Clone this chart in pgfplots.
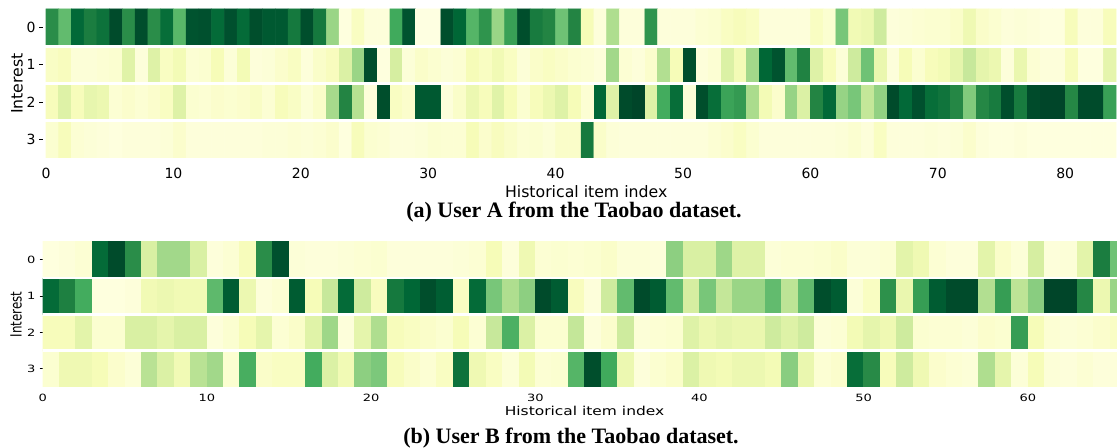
\documentclass[border=0pt]{standalone}
\usepackage{pgfplots}
\pgfplotsset{compat=1.18}
\usepackage{pgfplotstable}
\usepackage{graphicx}
\usepackage{fontspec}
\setmainfont{DejaVu Sans}
\newfontfamily\capfont{Liberation Serif}

\pgfplotsset{colormap={YlGn}{rgb255=(255,255,229) rgb255=(247,252,185) rgb255=(217,240,163) rgb255=(173,221,142) rgb255=(120,198,121) rgb255=(65,171,93) rgb255=(35,132,67) rgb255=(0,104,55) rgb255=(0,69,41)}}

% Panel (a): 4 interests x 84 items, row by row
\pgfplotstableread[row sep=\\]{
c\\
0.72\\0.55\\0.87\\0.78\\0.83\\0.98\\0.72\\0.97\\0.72\\0.85\\
0.57\\0.95\\0.96\\0.86\\0.96\\0.86\\0.97\\0.93\\0.93\\0.80\\
0.97\\0.80\\0.42\\0.02\\0.10\\0.03\\0.03\\0.63\\0.95\\0.01\\
0.01\\0.97\\0.88\\0.58\\0.70\\0.42\\0.66\\0.97\\0.79\\0.75\\
0.52\\0.75\\0.13\\0.03\\0.37\\0.03\\0.03\\0.70\\0.03\\0.03\\
0.03\\0.05\\0.06\\0.10\\0.12\\0.10\\0.03\\0.03\\0.03\\0.03\\
0.10\\0.06\\0.50\\0.15\\0.17\\0.28\\0.03\\0.04\\0.05\\0.06\\
0.06\\0.08\\0.16\\0.08\\0.06\\0.03\\0.04\\0.03\\0.02\\0.02\\
0.12\\0.03\\0.03\\0.12\\
0.09\\0.11\\0.04\\0.04\\0.05\\0.06\\0.22\\0.03\\0.23\\0.10\\
0.14\\0.05\\0.06\\0.13\\0.04\\0.14\\0.03\\0.04\\0.07\\0.10\\
0.03\\0.08\\0.11\\0.24\\0.42\\0.97\\0.02\\0.26\\0.04\\0.08\\
0.06\\0.04\\0.05\\0.13\\0.10\\0.15\\0.10\\0.04\\0.08\\0.10\\
0.08\\0.06\\0.05\\0.03\\0.40\\0.05\\0.03\\0.07\\0.36\\0.13\\
0.97\\0.03\\0.05\\0.24\\0.14\\0.40\\0.88\\0.95\\0.55\\0.76\\
0.23\\0.12\\0.04\\0.28\\0.52\\0.18\\0.03\\0.13\\0.06\\0.12\\
0.14\\0.20\\0.30\\0.20\\0.17\\0.03\\0.18\\0.05\\0.03\\0.03\\
0.12\\0.02\\0.02\\0.20\\
0.12\\0.23\\0.12\\0.19\\0.17\\0.05\\0.07\\0.05\\0.07\\0.10\\
0.23\\0.06\\0.05\\0.07\\0.06\\0.07\\0.09\\0.05\\0.12\\0.09\\
0.04\\0.08\\0.39\\0.75\\0.35\\0.03\\0.97\\0.10\\0.07\\0.93\\
0.93\\0.03\\0.08\\0.17\\0.12\\0.22\\0.13\\0.06\\0.12\\0.17\\
0.23\\0.13\\0.05\\0.88\\0.23\\0.98\\1.00\\0.23\\0.62\\0.85\\
0.04\\0.97\\0.85\\0.65\\0.68\\0.38\\0.14\\0.07\\0.43\\0.24\\
0.75\\0.87\\0.43\\0.50\\0.31\\0.44\\0.98\\0.87\\0.96\\0.85\\
0.82\\0.74\\0.48\\0.74\\0.79\\0.97\\0.79\\0.98\\1.00\\1.00\\
0.74\\0.98\\0.98\\0.66\\
0.06\\0.12\\0.05\\0.04\\0.03\\0.02\\0.03\\0.03\\0.03\\0.04\\
0.07\\0.03\\0.03\\0.03\\0.03\\0.03\\0.03\\0.04\\0.04\\0.05\\
0.04\\0.05\\0.07\\0.02\\0.12\\0.06\\0.05\\0.03\\0.03\\0.04\\
0.06\\0.05\\0.05\\0.13\\0.07\\0.11\\0.08\\0.05\\0.06\\0.04\\
0.08\\0.08\\0.80\\0.08\\0.04\\0.03\\0.03\\0.03\\0.03\\0.03\\
0.03\\0.03\\0.05\\0.07\\0.10\\0.06\\0.03\\0.03\\0.03\\0.03\\
0.03\\0.03\\0.04\\0.06\\0.03\\0.10\\0.03\\0.03\\0.03\\0.04\\
0.03\\0.04\\0.07\\0.03\\0.02\\0.02\\0.03\\0.02\\0.02\\0.02\\
0.02\\0.02\\0.02\\0.02\\
}\tabA

% Panel (b): 4 interests x 66 items, row by row
\pgfplotstableread[row sep=\\]{
c\\
0.02\\0.03\\0.05\\0.86\\0.98\\0.72\\0.25\\0.40\\0.40\\0.25\\
0.03\\0.05\\0.12\\0.72\\0.96\\0.04\\0.03\\0.03\\0.04\\0.05\\
0.06\\0.03\\0.03\\0.03\\0.03\\0.04\\0.05\\0.13\\0.03\\0.16\\
0.05\\0.06\\0.05\\0.06\\0.08\\0.04\\0.04\\0.03\\0.45\\0.25\\
0.25\\0.41\\0.23\\0.23\\0.04\\0.05\\0.05\\0.06\\0.08\\0.04\\
0.04\\0.05\\0.21\\0.16\\0.05\\0.03\\0.03\\0.21\\0.08\\0.04\\
0.26\\0.03\\0.04\\0.21\\0.78\\0.52\\
0.86\\0.77\\0.62\\0.02\\0.02\\0.03\\0.15\\0.17\\0.15\\0.15\\
0.56\\0.92\\0.17\\0.03\\0.05\\0.92\\0.13\\0.30\\0.86\\0.28\\
0.11\\0.80\\0.88\\0.97\\0.91\\0.10\\0.86\\0.50\\0.37\\0.45\\
0.98\\0.92\\0.11\\0.03\\0.28\\0.55\\0.98\\0.92\\0.55\\0.26\\
0.50\\0.31\\0.42\\0.42\\0.55\\0.33\\0.55\\0.97\\0.92\\0.04\\
0.10\\0.71\\0.18\\0.67\\0.92\\0.98\\0.98\\0.36\\0.67\\0.33\\
0.46\\1.00\\1.00\\0.74\\0.17\\0.42\\
0.12\\0.12\\0.21\\0.06\\0.06\\0.25\\0.25\\0.20\\0.25\\0.25\\
0.03\\0.06\\0.13\\0.20\\0.05\\0.08\\0.22\\0.41\\0.03\\0.20\\
0.37\\0.12\\0.10\\0.08\\0.06\\0.13\\0.05\\0.30\\0.60\\0.24\\
0.06\\0.06\\0.31\\0.03\\0.07\\0.28\\0.04\\0.05\\0.06\\0.23\\
0.17\\0.20\\0.18\\0.18\\0.28\\0.23\\0.28\\0.04\\0.05\\0.14\\
0.20\\0.16\\0.28\\0.06\\0.05\\0.05\\0.04\\0.07\\0.06\\0.67\\
0.13\\0.05\\0.04\\0.05\\0.07\\0.09\\
0.06\\0.16\\0.16\\0.13\\0.07\\0.04\\0.34\\0.24\\0.15\\0.34\\
0.40\\0.06\\0.61\\0.08\\0.10\\0.10\\0.62\\0.24\\0.15\\0.45\\
0.49\\0.12\\0.08\\0.05\\0.10\\0.83\\0.16\\0.10\\0.04\\0.14\\
0.05\\0.06\\0.58\\0.97\\0.63\\0.17\\0.03\\0.06\\0.08\\0.24\\
0.16\\0.14\\0.17\\0.17\\0.14\\0.46\\0.18\\0.05\\0.07\\0.85\\
0.73\\0.12\\0.28\\0.16\\0.07\\0.05\\0.04\\0.37\\0.20\\0.04\\
0.13\\0.04\\0.03\\0.05\\0.03\\0.03\\
}\tabB

\begin{document}
\begin{tikzpicture}
\useasboundingbox (0,0) rectangle (837.75pt,336pt);

% ---------- panel (a) ----------
\begin{axis}[
  at={(32.6pt,217.5pt)}, anchor=south west, scale only axis,
  width=814.1pt, height=111.75pt,
  xmin=-0.2, xmax=85, ymin=-0.5, ymax=3.5, y dir=reverse,
  enlargelimits=false,
  colormap name=YlGn, point meta min=0, point meta max=1,
  axis line style={draw=none},
  xtick={0,10,...,80}, xticklabels={0,10,20,30,40,50,60,70,80},
  ytick={0,1,2,3}, yticklabels={0,1,2,3},
  xtick style={draw=none},
  ytick style={draw=black, line width=0.6pt},
  tick align=outside, major tick length=3pt,
  tick label style={font=\fontsize{10.5}{12}\selectfont},
  xticklabel style={anchor=center, yshift=-8.5pt},
  yticklabel style={anchor=center, xshift=-6.2pt},
  xlabel={Historical item index},
  ylabel={Interest},
  label style={font=\fontsize{11.8}{14}\selectfont},
  xlabel style={at={(axis description cs:0.5,-0.2264)}, anchor=center},
  ylabel style={at={(axis description cs:-0.02444,0.5)}, anchor=center},
]
\addplot[matrix plot*, mesh/cols=84, mesh/rows=4, point meta=explicit]
  table[x index=0, y index=0, x expr={mod(\coordindex,84)+0.5}, y expr={floor((\coordindex+0.5)/84)}, meta=c] {\tabA};
\draw[white, line width=2.25pt] (axis cs:-1,0.5) -- (axis cs:90,0.5);
\draw[white, line width=2.25pt] (axis cs:-1,1.5) -- (axis cs:90,1.5);
\draw[white, line width=2.25pt] (axis cs:-1,2.5) -- (axis cs:90,2.5);
\end{axis}

% ---------- panel (b) ----------
\begin{axis}[
  at={(32.0pt,45.75pt)}, anchor=south west, scale only axis,
  width=812.8pt, height=109pt,
  xmin=0, xmax=66, ymin=-0.5, ymax=3.5, y dir=reverse,
  enlargelimits=false,
  colormap name=YlGn, point meta min=0, point meta max=1,
  axis line style={draw=none},
  xtick={0,10,...,60},
  xticklabels={\scalebox{1.3}[1]{0},\scalebox{1.3}[1]{10},\scalebox{1.3}[1]{20},\scalebox{1.3}[1]{30},\scalebox{1.3}[1]{40},\scalebox{1.3}[1]{50},\scalebox{1.3}[1]{60}},
  ytick={0,1,2,3},
  yticklabels={\scalebox{1.3}[1]{0},\scalebox{1.3}[1]{1},\scalebox{1.3}[1]{2},\scalebox{1.3}[1]{3}},
  xtick style={draw=none},
  ytick style={draw=black, line width=0.5pt},
  tick align=outside, major tick length=2.25pt,
  tick label style={font=\fontsize{7.5}{9}\selectfont},
  xticklabel style={anchor=center, yshift=-5.75pt},
  yticklabel style={anchor=center, xshift=-6.3pt},
  xlabel={\scalebox{1.26}[1]{Historical item index}},
  ylabel={\scalebox{1}[1.3]{Interest}},
  xlabel style={font=\fontsize{9.2}{11}\selectfont, at={(axis description cs:0.5,-0.1651)}, anchor=center},
  ylabel style={font=\fontsize{8.9}{11}\selectfont, at={(axis description cs:-0.0245,0.5)}, anchor=center},
]
\addplot[matrix plot*, mesh/cols=66, mesh/rows=4, point meta=explicit]
  table[x index=0, y index=0, x expr={mod(\coordindex,66)+0.5}, y expr={floor((\coordindex+0.5)/66)}, meta=c] {\tabB};
\draw[white, line width=1.9pt] (axis cs:-1,0.5) -- (axis cs:70,0.5);
\draw[white, line width=1.9pt] (axis cs:-1,1.5) -- (axis cs:70,1.5);
\draw[white, line width=1.9pt] (axis cs:-1,2.5) -- (axis cs:70,2.5);
\end{axis}

\node[font=\capfont\bfseries\fontsize{16.5}{19}\selectfont, inner sep=0pt] at (430.5pt,177.2pt) {(a) User A from the Taobao dataset.};
\node[font=\capfont\bfseries\fontsize{16.5}{19}\selectfont, inner sep=0pt] at (428.25pt,7.5pt) {(b) User B from the Taobao dataset.};
\end{tikzpicture}
\end{document}
